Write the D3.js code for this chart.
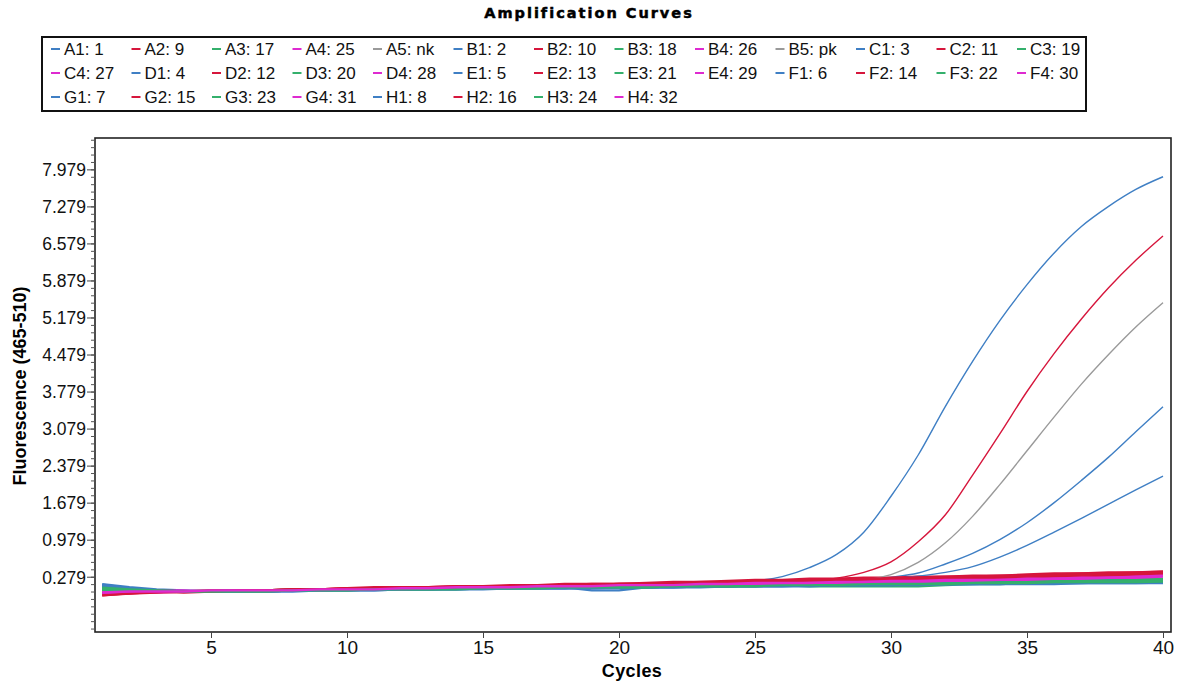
<!DOCTYPE html>
<html>
<head>
<meta charset="utf-8">
<script src="https://cdn.jsdelivr.net/npm/d3@7.9.0/dist/d3.min.js"></script>
<style>
  body { margin: 0; background: #fff; }
  svg { display: block; }
  .tick text { fill: #111; }
</style>
</head>
<body>
<svg id="chart" width="1187" height="688"></svg>
<script>
// cycles on the x axis
const cycles = [1,2,3,4,5,6,7,8,9,10,11,12,13,14,15,16,17,18,19,20,21,22,23,24,25,26,27,28,29,30,31,32,33,34,35,36,37,38,39,40];
const xTicks = [5, 10, 15, 20, 25, 30, 35, 40];
const yTicks = [0.279, 0.979, 1.679, 2.379, 3.079, 3.779, 4.479, 5.179, 5.879, 6.579, 7.279, 7.979];

const wells = ['A1','A2','A3','A4','A5','B1','B2','B3','B4','B5','C1','C2','C3','C4','D1','D2','D3','D4',
  'E1','E2','E3','E4','F1','F2','F3','F4','G1','G2','G3','G4','H1','H2','H3','H4'];
const sampleNames = ['1','9','17','25','nk','2','10','18','26','pk','3','11','19','27','4','12','20','28',
  '5','13','21','29','6','14','22','30','7','15','23','31','8','16','24','32'];

// fluorescence per well, cycle 1..40
const A1 = [0.08,0.04,0.02,0.00,0.00,0.02,0.02,0.02,0.04,0.04,0.04,0.06,0.06,0.06,0.08,0.08,0.08,0.10,0.10,0.10,0.12,0.12,0.14,0.14,0.20,0.28,0.45,0.70,1.12,1.80,2.58,3.50,4.35,5.12,5.80,6.40,6.90,7.28,7.60,7.84];
const A2 = [-0.06,-0.02,0.00,0.00,0.00,0.02,0.02,0.04,0.04,0.04,0.06,0.06,0.08,0.08,0.08,0.10,0.10,0.12,0.12,0.12,0.14,0.14,0.16,0.16,0.18,0.18,0.20,0.25,0.36,0.56,0.94,1.45,2.20,2.98,3.78,4.50,5.15,5.74,6.26,6.72];
const A3 = [0.10,0.04,0.00,0.00,0.00,0.00,0.02,0.02,0.02,0.04,0.04,0.04,0.06,0.06,0.06,0.06,0.08,0.08,0.08,0.08,0.10,0.10,0.10,0.10,0.12,0.12,0.10,0.10,0.10,0.10,0.10,0.12,0.14,0.14,0.16,0.16,0.18,0.18,0.18,0.20];
const A4 = [-0.05,-0.02,0.00,0.00,0.00,0.02,0.02,0.02,0.04,0.04,0.06,0.06,0.06,0.08,0.08,0.10,0.10,0.10,0.12,0.12,0.12,0.14,0.14,0.16,0.16,0.18,0.18,0.20,0.20,0.22,0.22,0.24,0.24,0.26,0.26,0.28,0.28,0.30,0.32,0.33];
const A5 = [0.12,0.06,0.02,0.00,0.00,0.02,0.02,0.02,0.04,0.04,0.04,0.04,0.06,0.06,0.06,0.08,0.08,0.10,0.10,0.08,0.08,0.10,0.10,0.10,0.12,0.12,0.12,0.12,0.14,0.14,0.14,0.14,0.16,0.16,0.16,0.16,0.18,0.18,0.18,0.18];
const B1 = [0.13,0.06,0.02,0.00,0.00,0.00,0.02,0.02,0.02,0.04,0.04,0.04,0.06,0.06,0.06,0.08,0.08,0.08,0.10,0.10,0.10,0.12,0.12,0.14,0.14,0.16,0.16,0.18,0.22,0.27,0.35,0.52,0.72,0.98,1.30,1.68,2.10,2.54,3.02,3.49];
const B2 = [-0.06,-0.02,0.00,0.00,0.00,0.02,0.02,0.04,0.04,0.06,0.08,0.08,0.08,0.10,0.10,0.12,0.12,0.14,0.14,0.14,0.16,0.18,0.18,0.20,0.22,0.22,0.24,0.24,0.26,0.26,0.28,0.28,0.30,0.30,0.32,0.34,0.34,0.36,0.36,0.38];
const B3 = [0.04,0.02,0.00,0.00,0.00,0.02,0.02,0.02,0.04,0.04,0.04,0.06,0.06,0.06,0.08,0.08,0.08,0.08,0.10,0.10,0.10,0.12,0.12,0.12,0.14,0.14,0.14,0.16,0.16,0.16,0.18,0.18,0.18,0.18,0.20,0.20,0.20,0.22,0.22,0.22];
const B4 = [-0.04,-0.02,0.00,0.00,0.00,0.00,0.02,0.02,0.02,0.04,0.04,0.06,0.06,0.06,0.08,0.08,0.10,0.10,0.10,0.12,0.12,0.12,0.14,0.14,0.16,0.16,0.18,0.18,0.20,0.20,0.22,0.22,0.24,0.24,0.26,0.26,0.28,0.28,0.30,0.31];
const B5 = [0.10,0.04,0.02,0.00,0.00,0.02,0.02,0.02,0.04,0.04,0.04,0.06,0.06,0.06,0.08,0.08,0.08,0.10,0.10,0.10,0.12,0.12,0.12,0.14,0.14,0.16,0.16,0.18,0.22,0.32,0.55,0.92,1.42,2.02,2.66,3.30,3.92,4.48,5.00,5.46];
const C1 = [0.11,0.06,0.02,0.00,0.00,0.00,0.02,0.02,0.02,0.04,0.04,0.04,0.04,0.06,0.06,0.06,0.08,0.08,0.08,0.10,0.10,0.10,0.12,0.12,0.14,0.14,0.16,0.18,0.20,0.24,0.29,0.36,0.47,0.65,0.87,1.12,1.38,1.65,1.92,2.18];
const C2 = [-0.07,-0.03,0.00,0.00,0.00,0.00,0.02,0.02,0.04,0.04,0.06,0.06,0.08,0.08,0.10,0.10,0.12,0.12,0.12,0.14,0.14,0.16,0.16,0.18,0.18,0.20,0.20,0.22,0.22,0.24,0.26,0.26,0.28,0.28,0.30,0.32,0.32,0.34,0.34,0.36];
const C3 = [0.08,0.04,0.02,0.00,0.00,0.00,0.02,0.02,0.02,0.04,0.04,0.04,0.04,0.06,0.06,0.06,0.08,0.08,0.08,0.08,0.10,0.10,0.10,0.12,0.12,0.12,0.14,0.14,0.14,0.16,0.16,0.16,0.18,0.18,0.18,0.20,0.20,0.20,0.20,0.21];
const C4 = [-0.03,0.00,0.00,0.00,0.00,0.02,0.02,0.02,0.02,0.04,0.04,0.04,0.06,0.06,0.08,0.08,0.08,0.10,0.10,0.10,0.12,0.12,0.14,0.14,0.16,0.16,0.16,0.18,0.18,0.20,0.20,0.22,0.22,0.24,0.24,0.26,0.26,0.28,0.28,0.30];
const D1 = [0.13,0.06,0.02,0.00,0.00,0.00,0.02,0.02,0.02,0.04,0.04,0.04,0.04,0.06,0.06,0.06,0.08,0.08,0.02,0.02,0.08,0.10,0.10,0.10,0.12,0.12,0.12,0.12,0.14,0.14,0.14,0.16,0.16,0.16,0.16,0.18,0.18,0.18,0.18,0.19];
const D2 = [-0.05,-0.02,0.02,0.00,0.00,0.02,0.02,0.02,0.04,0.06,0.06,0.06,0.08,0.08,0.10,0.10,0.10,0.12,0.12,0.12,0.14,0.16,0.16,0.18,0.18,0.20,0.20,0.22,0.22,0.24,0.24,0.26,0.26,0.28,0.30,0.30,0.32,0.32,0.34,0.35];
const D3 = [0.06,0.02,0.00,0.00,0.02,0.02,0.02,0.04,0.04,0.04,0.06,0.06,0.06,0.06,0.08,0.08,0.08,0.10,0.10,0.10,0.10,0.12,0.12,0.12,0.14,0.14,0.14,0.16,0.16,0.16,0.18,0.18,0.18,0.20,0.20,0.20,0.22,0.22,0.22,0.23];
const D4 = [-0.06,-0.03,-0.02,0.00,0.00,0.00,0.02,0.02,0.04,0.04,0.04,0.06,0.06,0.08,0.08,0.08,0.10,0.10,0.10,0.12,0.12,0.14,0.14,0.16,0.16,0.18,0.18,0.18,0.20,0.20,0.22,0.22,0.24,0.24,0.26,0.28,0.28,0.30,0.30,0.32];
const E1 = [0.14,0.08,0.04,0.02,0.00,0.00,0.00,0.02,0.02,0.02,0.04,0.04,0.04,0.04,0.06,0.06,0.06,0.06,0.08,0.08,0.08,0.08,0.10,0.10,0.10,0.10,0.12,0.12,0.12,0.12,0.14,0.14,0.14,0.14,0.16,0.16,0.16,0.16,0.16,0.17];
const E2 = [-0.04,0.00,0.00,0.00,0.02,0.02,0.02,0.04,0.04,0.04,0.06,0.06,0.06,0.08,0.08,0.10,0.10,0.12,0.12,0.12,0.14,0.14,0.16,0.16,0.18,0.18,0.20,0.20,0.22,0.22,0.24,0.24,0.26,0.26,0.28,0.30,0.30,0.32,0.32,0.34];
const E3 = [0.02,0.00,0.00,0.00,0.00,0.02,0.02,0.02,0.04,0.04,0.04,0.06,0.06,0.06,0.08,0.08,0.08,0.10,0.10,0.10,0.12,0.12,0.12,0.14,0.14,0.14,0.16,0.16,0.16,0.18,0.18,0.18,0.20,0.20,0.20,0.22,0.22,0.22,0.24,0.24];
const E4 = [-0.02,0.00,0.02,0.02,0.00,0.00,0.02,0.02,0.02,0.04,0.04,0.04,0.06,0.06,0.06,0.08,0.08,0.10,0.10,0.10,0.10,0.12,0.12,0.14,0.14,0.16,0.16,0.16,0.18,0.18,0.20,0.20,0.22,0.22,0.24,0.24,0.26,0.26,0.28,0.29];
const F1 = [0.11,0.06,0.02,0.00,0.00,0.02,0.02,0.02,0.04,0.04,0.04,0.04,0.06,0.06,0.06,0.08,0.08,0.08,0.08,0.10,0.10,0.10,0.12,0.12,0.12,0.14,0.14,0.14,0.14,0.16,0.16,0.16,0.18,0.18,0.18,0.18,0.20,0.20,0.20,0.20];
const F2 = [-0.06,-0.04,0.00,-0.02,0.00,0.00,0.02,0.04,0.04,0.06,0.06,0.08,0.08,0.10,0.10,0.10,0.12,0.12,0.14,0.14,0.14,0.16,0.18,0.18,0.20,0.20,0.22,0.22,0.24,0.24,0.26,0.28,0.28,0.30,0.30,0.32,0.34,0.34,0.36,0.37];
const F3 = [0.05,0.02,0.00,0.00,0.00,0.00,0.02,0.02,0.04,0.04,0.04,0.04,0.06,0.06,0.06,0.08,0.08,0.08,0.08,0.10,0.10,0.10,0.12,0.12,0.12,0.14,0.14,0.14,0.16,0.16,0.16,0.18,0.18,0.18,0.20,0.20,0.20,0.20,0.22,0.22];
const F4 = [-0.05,-0.02,0.00,0.00,0.00,0.02,0.02,0.02,0.04,0.04,0.04,0.06,0.06,0.06,0.08,0.08,0.10,0.10,0.10,0.12,0.12,0.12,0.14,0.14,0.16,0.16,0.18,0.18,0.20,0.20,0.20,0.22,0.22,0.24,0.26,0.26,0.28,0.28,0.30,0.31];
const G1 = [0.09,0.04,0.02,0.00,0.00,0.00,0.00,0.02,0.02,0.02,0.02,0.04,0.04,0.04,0.06,0.06,0.06,0.06,0.08,0.08,0.08,0.08,0.10,0.10,0.10,0.12,0.12,0.12,0.12,0.14,0.14,0.14,0.14,0.16,0.16,0.16,0.16,0.18,0.18,0.18];
const G2 = [-0.03,0.00,0.02,0.00,0.00,0.00,0.02,0.02,0.04,0.04,0.04,0.06,0.06,0.08,0.08,0.08,0.10,0.10,0.12,0.12,0.12,0.14,0.14,0.16,0.16,0.18,0.18,0.20,0.20,0.22,0.22,0.24,0.24,0.26,0.26,0.28,0.28,0.30,0.32,0.33];
const G3 = [0.03,0.02,0.00,0.00,0.00,0.00,0.00,0.02,0.02,0.02,0.04,0.04,0.04,0.06,0.06,0.06,0.06,0.08,0.08,0.08,0.08,0.10,0.10,0.10,0.12,0.12,0.12,0.12,0.14,0.14,0.14,0.16,0.16,0.16,0.18,0.18,0.18,0.18,0.20,0.20];
const G4 = [-0.04,-0.02,0.00,0.00,0.00,0.00,0.00,0.02,0.02,0.04,0.04,0.04,0.06,0.06,0.06,0.08,0.08,0.08,0.10,0.10,0.10,0.12,0.12,0.14,0.14,0.14,0.16,0.16,0.18,0.18,0.18,0.20,0.20,0.22,0.22,0.24,0.24,0.26,0.26,0.28];
const H1 = [0.12,0.06,0.02,0.00,0.00,0.00,0.00,0.00,0.02,0.02,0.02,0.04,0.04,0.04,0.04,0.06,0.06,0.06,0.06,0.08,0.08,0.08,0.08,0.10,0.10,0.10,0.10,0.12,0.12,0.12,0.12,0.14,0.14,0.14,0.14,0.14,0.16,0.16,0.16,0.16];
const H2 = [-0.07,-0.04,-0.02,0.00,0.00,0.02,0.02,0.04,0.04,0.04,0.06,0.08,0.08,0.08,0.10,0.10,0.12,0.12,0.12,0.14,0.14,0.16,0.16,0.18,0.20,0.20,0.22,0.22,0.24,0.24,0.26,0.26,0.28,0.28,0.30,0.30,0.32,0.34,0.34,0.36];
const H3 = [0.07,0.04,0.02,0.00,0.00,0.00,0.00,0.02,0.02,0.02,0.04,0.04,0.04,0.04,0.06,0.06,0.06,0.08,0.08,0.08,0.08,0.10,0.10,0.10,0.10,0.12,0.12,0.12,0.14,0.14,0.14,0.14,0.16,0.16,0.16,0.18,0.18,0.18,0.18,0.19];
const H4 = [-0.02,0.00,0.00,0.00,0.02,0.02,0.02,0.02,0.04,0.04,0.04,0.06,0.06,0.08,0.08,0.08,0.10,0.10,0.10,0.12,0.12,0.12,0.14,0.14,0.16,0.16,0.16,0.18,0.18,0.20,0.20,0.22,0.22,0.22,0.24,0.24,0.26,0.26,0.28,0.30];

const valuesByWell = { A1, A2, A3, A4, A5, B1, B2, B3, B4, B5, C1, C2, C3, C4, D1, D2, D3, D4,
  E1, E2, E3, E4, F1, F2, F3, F4, G1, G2, G3, G4, H1, H2, H3, H4 };

// colour by plate column
const columnColors = { '1': '#3f7fc4', '2': '#d6163c', '3': '#34b06c', '4': '#de2ad0', '5': '#9a9a9a' };
const colorFor = w => columnColors[w[1]];

const series = wells.map((w, i) => ({
  well: w,
  label: `${w}: ${sampleNames[i]}`,
  values: cycles.map((c, j) => ({ cycle: c, value: valuesByWell[w][j] }))
}));

const svg = d3.select('#chart');
const plot = { left: 95, right: 1171, top: 138, bottom: 632 };

const x = d3.scaleLinear().domain([0.735, 40.294]).range([plot.left, plot.right]);
const y = d3.scaleLinear().domain([-0.766, 8.572]).range([plot.bottom, plot.top]);

// title
svg.append('text')
  .attr('x', 589).attr('y', 18)
  .attr('text-anchor', 'middle')
  .style('font-family', 'DejaVu Sans, sans-serif')
  .style('font-weight', 'bold')
  .style('font-size', '14.5px')
  .style('letter-spacing', '2px')
  .style('stroke', '#000').style('stroke-width', 0.5)
  .text('Amplification Curves');

// legend
const legend = svg.append('g');
legend.append('rect')
  .attr('x', 42).attr('y', 37).attr('width', 1044).attr('height', 74)
  .attr('fill', '#fff').attr('stroke', '#111').attr('stroke-width', 2);

series.forEach((s, i) => {
  const row = Math.floor(i / 13), col = i % 13;
  const cx = 55 + col * 80.5, cy = 49 + row * 24;
  const g = legend.append('g').attr('transform', `translate(${cx},${cy})`);
  g.append('line').attr('x1', -4).attr('x2', 5).attr('y1', 0).attr('y2', 0)
    .attr('stroke', colorFor(s.well)).attr('stroke-width', 2);
  g.append('text').attr('x', 9).attr('y', 6)
    .style('font-family', 'Liberation Sans, Arial, sans-serif')
    .style('font-size', '17px')
    .attr('fill', '#111')
    .text(s.label);
});

// plot frame
svg.append('rect')
  .attr('x', plot.left).attr('y', plot.top)
  .attr('width', plot.right - plot.left).attr('height', plot.bottom - plot.top)
  .attr('fill', '#fff').attr('stroke', '#222').attr('stroke-width', 1.6);

svg.append('clipPath').attr('id', 'clip')
  .append('rect')
  .attr('x', plot.left + 1).attr('y', plot.top + 1)
  .attr('width', plot.right - plot.left - 2).attr('height', plot.bottom - plot.top - 2);

// curves
const line = d3.line().x(d => x(d.cycle)).y(d => y(d.value)).curve(d3.curveMonotoneX);
const flatLine = d3.line().x(d => x(d.cycle)).y(d => y(d.value));
const amplified = ['A1', 'A2', 'B5', 'B1', 'C1'];

svg.append('g').attr('clip-path', 'url(#clip)')
  .selectAll('path')
  .data(series)
  .join('path')
  .attr('d', d => amplified.includes(d.well) ? line(d.values) : flatLine(d.values))
  .attr('fill', 'none')
  .attr('stroke', d => colorFor(d.well))
  .attr('stroke-width', d => amplified.includes(d.well) ? 1.4 : 2.4)
  .attr('stroke-linejoin', 'round');

// y axis, minor then major ticks
const yMinor = [];
for (let v = 0.279 - 0.14 * 7; v <= 8.572; v += 0.14) yMinor.push(+v.toFixed(3));

svg.append('g')
  .attr('transform', `translate(${plot.left},0)`)
  .call(d3.axisLeft(y).tickValues(yMinor).tickSize(4).tickFormat(''))
  .call(g => g.select('.domain').remove())
  .selectAll('line').attr('stroke', '#555');

const yAxis = svg.append('g')
  .attr('transform', `translate(${plot.left},0)`)
  .call(d3.axisLeft(y).tickValues(yTicks).tickSize(8).tickPadding(1).tickFormat(d3.format('.3f')));
yAxis.select('.domain').remove();
yAxis.selectAll('line').attr('stroke', '#444');
yAxis.selectAll('text')
  .style('font-family', 'Liberation Sans, Arial, sans-serif')
  .style('font-size', '17.5px')
  .attr('dy', '0.36em');

const xAxis = svg.append('g')
  .attr('transform', `translate(0,${plot.bottom})`)
  .call(d3.axisBottom(x).tickValues(xTicks).tickSize(6).tickPadding(3));
xAxis.select('.domain').remove();
xAxis.selectAll('line').attr('stroke', '#444');
xAxis.selectAll('text')
  .style('font-family', 'Liberation Sans, Arial, sans-serif')
  .style('font-size', '19px');

// axis titles
svg.append('text')
  .attr('x', 632).attr('y', 677)
  .attr('text-anchor', 'middle')
  .style('font-family', 'Liberation Sans, Arial, sans-serif')
  .style('font-weight', 'bold')
  .style('font-size', '18px')
  .style('letter-spacing', '0.4px')
  .text('Cycles');

svg.append('text')
  .attr('transform', 'translate(26,386) rotate(-90)')
  .attr('text-anchor', 'middle')
  .style('font-family', 'Liberation Sans, Arial, sans-serif')
  .style('font-weight', 'bold')
  .style('font-size', '18px')
  .text('Fluorescence (465-510)');
</script>
</body>
</html>
